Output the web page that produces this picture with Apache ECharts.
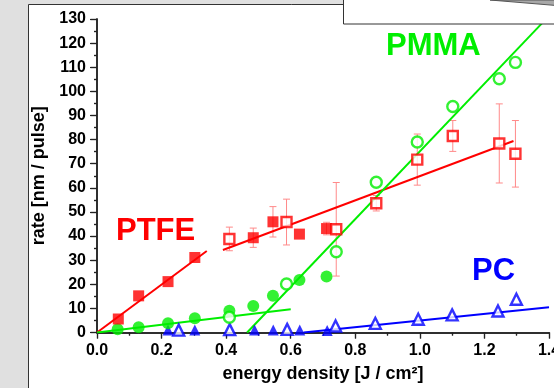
<!DOCTYPE html>
<html><head><meta charset="utf-8">
<script src="https://cdn.jsdelivr.net/npm/echarts@6/dist/echarts.min.js"></script>
<style>html,body{margin:0;padding:0;background:#e0e0e0;overflow:hidden}#c{width:554px;height:388px}</style>
</head><body><div id="c"></div>
<script>
// PTFE (red squares)
const ptfeFilledX = [0.066, 0.129, 0.22, 0.303, 0.484, 0.545, 0.627, 0.711];
const ptfeFilledY = [5.6, 15.2, 21.1, 31.1, 39.3, 45.9, 40.8, 43.1];
const ptfeFilledErr = [0, 0, 0, 0, 4.0, 6.3, 0, 2.6];
const ptfeOpenX = [0.41, 0.587, 0.741, 0.865, 0.992, 1.102, 1.246, 1.296];
const ptfeOpenY = [38.8, 45.8, 42.8, 53.6, 71.7, 81.5, 78.4, 74.1];
const ptfeOpenErr = [4.9, 9.5, 19.4, 3.2, 10.6, 6.4, 16.4, 13.8];
const ptfeFit1X = [0, 0.34];
const ptfeFit1Y = [0, 33.8];
const ptfeFit2X = [0.39, 1.29];
const ptfeFit2Y = [34.2, 79.4];
// PMMA (green circles)
const pmmaFilledX = [0.064, 0.129, 0.22, 0.303, 0.41, 0.484, 0.545, 0.627, 0.711];
const pmmaFilledY = [1.3, 2.2, 3.8, 5.9, 9.0, 11.0, 15.2, 21.8, 23.2];
const pmmaOpenX = [0.41, 0.587, 0.741, 0.865, 0.992, 1.102, 1.246, 1.296];
const pmmaOpenY = [6.3, 20.1, 33.5, 62.3, 79.0, 93.7, 105.2, 112.0];
const pmmaFit1X = [0, 0.60];
const pmmaFit1Y = [0, 9.6];
const pmmaFit2X = [0.465, 1.378];
const pmmaFit2Y = [0, 128.2];
// PC (blue triangles)
const pcFilledX = [0.22, 0.303, 0.488, 0.546, 0.628, 0.713];
const pcFilledY = [1.0, 1.0, 1.0, 1.0, 1.0, 0.8];
const pcOpenX = [0.253, 0.411, 0.589, 0.739, 0.862, 0.995, 1.1, 1.242, 1.299];
const pcOpenY = [1.0, 1.2, 1.3, 2.7, 3.8, 5.5, 7.3, 8.9, 13.8];
const pcFitX = [0.64, 1.4];
const pcFitY = [0, 10.5];

const labels = ['PTFE', 'PMMA', 'PC'];
const xAxisTitle = 'energy density [J / cm²]';
const yAxisTitle = 'rate [nm / pulse]';

const pairs = (xs, ys) => xs.map((x, i) => [x, ys[i]]);
const triples = (xs, ys, es) => xs.map((x, i) => [x, ys[i], es[i]]).filter(d => d[2] > 0);

const FONT = '"Liberation Sans", Arial, sans-serif';
const RED = '#ff0000', GREEN = '#00ee00', BLUE = '#0000ff', ERR = '#ff8a8a';

function lineSeries(xs, ys, color) {
  return { type: 'line', data: pairs(xs, ys), symbol: 'none', silent: true, z: 2,
    lineStyle: { color: color, width: 2 }, animation: false };
}
function scatter(xs, ys, symbol, size, color, open) {
  return { type: 'scatter', data: pairs(xs, ys), symbol: symbol, symbolSize: size, z: 3, animation: false,
    itemStyle: open ? { color: '#ffffff', borderColor: color, borderWidth: 2.4 } : { color: color, borderWidth: 0 } };
}
function errSeries(xs, ys, es) {
  return { type: 'custom', data: triples(xs, ys, es), z: 1, animation: false, silent: true,
    renderItem: (params, api) => {
      const x = api.value(0), y = api.value(1), e = api.value(2);
      const t = api.coord([x, y + e]), b = api.coord([x, y - e]);
      const w = 3.5, st = { stroke: ERR, lineWidth: 1 };
      return { type: 'group', children: [
        { type: 'line', shape: { x1: t[0], y1: t[1], x2: b[0], y2: b[1] }, style: st },
        { type: 'line', shape: { x1: t[0] - w, y1: t[1], x2: t[0] + w, y2: t[1] }, style: st },
        { type: 'line', shape: { x1: b[0] - w, y1: b[1], x2: b[0] + w, y2: b[1] }, style: st }
      ]};
    } };
}

const axisLine = { show: true, lineStyle: { color: '#222', width: 1.5 } };
const chart = echarts.init(document.getElementById('c'));
chart.setOption({
  animation: false,
  backgroundColor: 'transparent',
  grid: { left: 97, right: 5, top: 19, bottom: 55.5, containLabel: false, outerBoundsMode: 'none' },
  xAxis: [
    { type: 'value', min: 0, max: 1.4, interval: 0.2, position: 'bottom',
      axisLine: axisLine, splitLine: { show: false },
      axisTick: { show: true, inside: false, length: 6, lineStyle: { color: '#222', width: 1.2 } },
      minorTick: { show: true, splitNumber: 2, length: 3, lineStyle: { color: '#222', width: 1.2 } },
      axisLabel: { color: '#000', fontFamily: FONT, fontWeight: 'bold', fontSize: 16, margin: 10,
        showMaxLabel: true, hideOverlap: false, formatter: v => v.toFixed(1) },
      name: xAxisTitle, nameLocation: 'middle', nameGap: 33,
      nameTextStyle: { color: '#000', fontFamily: FONT, fontWeight: 'bold', fontSize: 18 } },
    { type: 'value', min: 0, max: 1.4, interval: 0.2, position: 'top',
      axisLine: axisLine, splitLine: { show: false }, axisLabel: { show: false },
      axisTick: { show: true, inside: true, length: 6, lineStyle: { color: '#222', width: 1.2 } },
      minorTick: { show: true, splitNumber: 2, length: 3, lineStyle: { color: '#222', width: 1.2 } } }
  ],
  yAxis: [
    { type: 'value', min: 0, max: 130, interval: 10, position: 'left',
      axisLine: axisLine, splitLine: { show: false },
      axisTick: { show: true, inside: false, length: 7, lineStyle: { color: '#222', width: 1.2 } },
      minorTick: { show: true, splitNumber: 2, length: 3, lineStyle: { color: '#222', width: 1.2 } },
      axisLabel: { color: '#000', fontFamily: FONT, fontWeight: 'bold', fontSize: 16, margin: 11 },
      name: yAxisTitle, nameLocation: 'middle', nameGap: 47, nameRotate: 90,
      nameTextStyle: { color: '#000', fontFamily: FONT, fontWeight: 'bold', fontSize: 18 } },
    { type: 'value', min: 0, max: 130, interval: 10, position: 'right',
      axisLine: axisLine, splitLine: { show: false }, axisLabel: { show: false },
      axisTick: { show: true, inside: true, length: 6, lineStyle: { color: '#222', width: 1.2 } },
      minorTick: { show: true, splitNumber: 2, length: 3, lineStyle: { color: '#222', width: 1.2 } } }
  ],
  series: [
    errSeries(ptfeFilledX, ptfeFilledY, ptfeFilledErr),
    errSeries(ptfeOpenX, ptfeOpenY, ptfeOpenErr),
    lineSeries(ptfeFit1X, ptfeFit1Y, RED),
    lineSeries(ptfeFit2X, ptfeFit2Y, RED),
    lineSeries(pmmaFit1X, pmmaFit1Y, GREEN),
    lineSeries(pmmaFit2X, pmmaFit2Y, GREEN),
    lineSeries(pcFitX, pcFitY, BLUE),
    scatter(pcFilledX, pcFilledY, 'triangle', 11, BLUE, false),
    scatter(pcOpenX, pcOpenY, 'triangle', 11, BLUE, true),
    scatter(pmmaFilledX, pmmaFilledY, 'circle', 12, GREEN, false),
    scatter(pmmaOpenX, pmmaOpenY, 'circle', 11, GREEN, true),
    scatter(ptfeFilledX, ptfeFilledY, 'rect', 11, RED, false),
    scatter(ptfeOpenX, ptfeOpenY, 'rect', 10, RED, true)
  ],
  graphic: [
    { type: 'rect', z: -10, shape: { x: 28.5, y: 4.5, width: 600, height: 400 },
      style: { fill: '#ffffff', stroke: '#333', lineWidth: 1 } },
    { type: 'text', z: 10, left: 116, top: 216, style: { text: labels[0], fill: RED, font: 'bold 31px ' + FONT } },
    { type: 'text', z: 10, left: 386, top: 31, style: { text: labels[1], fill: GREEN, font: 'bold 31px ' + FONT } },
    { type: 'text', z: 10, left: 472, top: 256, style: { text: labels[2], fill: BLUE, font: 'bold 31px ' + FONT } },
    { type: 'rect', z: 100, shape: { x: 343.5, y: -5, width: 230, height: 29 },
      style: { fill: '#ffffff', stroke: '#333', lineWidth: 1 } },
    { type: 'polygon', z: 101, shape: { points: [[490, 0], [556, 0], [556, 5.5]] },
      style: { fill: '#a8a8a8', stroke: '#555', lineWidth: 1 } }
  ]
});
</script></body></html>
